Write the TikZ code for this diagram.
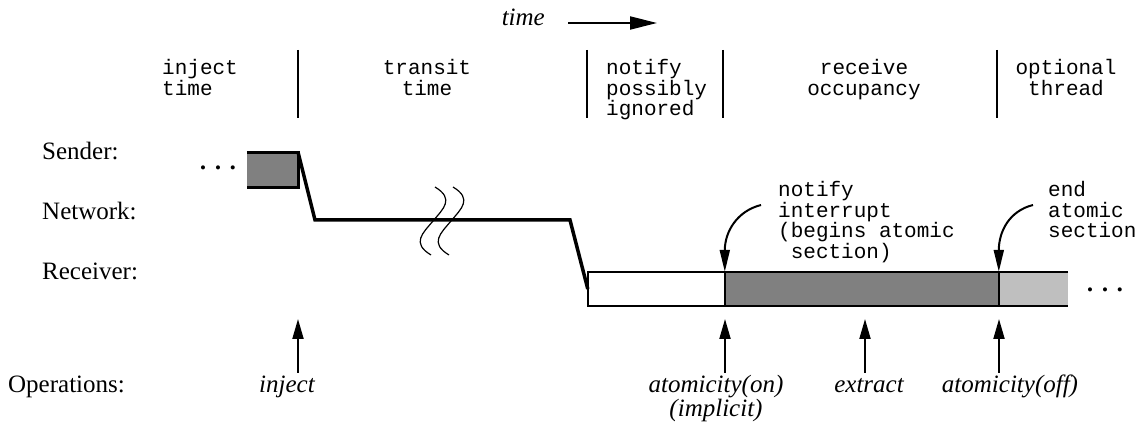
\documentclass[tikz,border=0pt]{standalone}
\usepackage{fontspec}
\setmainfont{Liberation Serif}
\setmonofont{Liberation Mono}
\usetikzlibrary{arrows.meta}
\tikzset{
    rowlbl/.style = {anchor=base west, inner sep=0pt, font=\fontsize{25}{25}\selectfont},
    oplbl/.style = {anchor=base, inner sep=0pt, align=center, font=\itshape\fontsize{25}{24}\selectfont},
    colhdr/.style = {inner sep=0pt, font=\ttfamily\fontsize{21}{20.5}\selectfont},
    note/.style = {anchor=base west, inner sep=0pt, align=left, font=\ttfamily\fontsize{21}{20.5}\selectfont},
    dotsn/.style = {inner sep=0pt, font=\fontsize{17}{17}\selectfont},
    sendbox/.style = {rectangle, inner sep=0pt, minimum width=51pt, minimum height=34pt, fill=gray},
    seg/.style = {rectangle, inner sep=0pt, minimum height=34pt},
    boxline/.style = {line width=3pt, line join=miter},
    barline/.style = {line width=2.5pt},
    sepline/.style = {line width=2pt},
    sig/.style = {line width=3.5pt, line join=miter},
    brk/.style = {line width=1.2pt},
    divline/.style = {line width=2pt},
    uparr/.style = {-{Triangle[length=20pt,width=11pt]}, line width=2pt},
    curvarr/.style = {-{Triangle[length=22pt,width=10pt]}, line width=2pt},
    timearr/.style = {-{Triangle[length=27pt,width=13pt]}, line width=2pt}
}
\newcommand{\Dots}{\textbullet\hspace{9pt}\textbullet\hspace{9pt}\textbullet}

\begin{document}
\begin{tikzpicture}[x=1pt,y=-1pt]
\useasboundingbox (0,0) rectangle (1141,427);
% time direction
\node[oplbl, anchor=base east] at (545,26) (tlbl) {time};
\coordinate (ta) at (568,23);
\coordinate (tb) at (657,23);
\draw[timearr] (ta) -- (tb);
% column headers (base = last line)
\foreach \x in {298,587,723,997} \draw[divline] (\x,50) -- (\x,118);
\node[colhdr, anchor=base west, align=left] at (162,95.5) (hinj) {inject\\time};
\node[colhdr, anchor=base, align=center] at (427,95.5) (htrn) {transit\\time};
\node[colhdr, anchor=base west, align=left] at (606,116) (hntf) {notify\\possibly\\ignored};
\node[colhdr, anchor=base, align=center] at (864,95.5) (hocc) {receive\\occupancy};
\node[colhdr, anchor=base, align=center] at (1066,95.5) (hopt) {optional\\thread};
% rows
\node[rowlbl] at (42,160) (snd) {Sender:};
\node[rowlbl] at (42,220) (net) {Network:};
\node[rowlbl] at (42,280) (rcv) {Receiver:};
\node[rowlbl] at (8,393) (ops) {Operations:};
% sender
\node[sendbox] at (272.5,170) (sbox) {};
\draw[boxline] (sbox.north west) -- (sbox.north east) -- (sbox.south east) -- (sbox.south west);
\node[dotsn] at (218,170) (sdots) {\Dots};
% receiver
\node[seg, fill=white, minimum width=137pt] at (656.5,289) (wait) {};
\node[seg, fill=gray, minimum width=274pt] at (862,289) (occ) {};
\node[seg, fill=black!25, minimum width=69pt] at (1033.5,289) (opt) {};
\draw[barline] (opt.north east) -- (wait.north west) -- (wait.south west) -- (opt.south east);
\draw[sepline] (occ.north west) -- (occ.south west);
\draw[sepline] (opt.north west) -- (opt.south west);
\node[dotsn] at (1105,292) (rdots) {\Dots};
% network
\coordinate (n1) at (315,220);
\coordinate (n2) at (570,220);
\draw[sig] (sbox.north east) -- (n1) -- (n2) -- (wait.west);
\foreach \dx in {0,18} \draw[brk] ({435+\dx},187) .. controls +(20,12) and +(10,-12) .. ({433+\dx},221) .. controls +(-10,12) and +(-20,-12) .. ({431+\dx},255);
% notes
\node[note] at (778,258.5) (nint) {notify\\interrupt\\(begins atomic\\\ section)};
\node[note] at (1048,238) (nend) {end\\atomic\\section};
\coordinate (c1) at (761,205);
\coordinate (c2) at (1033,205);
\draw[curvarr] (c1) .. controls +(-24,6) and +(0,-40) .. (occ.north west);
\draw[curvarr] (c2) .. controls +(-24,6) and +(0,-40) .. (opt.north west);
% operations
\node[oplbl] at (287,393) (oinj) {inject};
\node[oplbl] at (716,417) (oaon) {atomicity(on)\\(implicit)};
\node[oplbl] at (869,393) (oext) {extract};
\node[oplbl] at (1010,393) (oaoff) {atomicity(off)};
\coordinate (u1) at (298,373); \coordinate (v1) at (298,319);
\coordinate (u2) at (725,373); \coordinate (v2) at (725,319);
\coordinate (u3) at (865,373); \coordinate (v3) at (865,319);
\coordinate (u4) at (999,373); \coordinate (v4) at (999,319);
\draw[uparr] (u1) -- (v1);
\draw[uparr] (u2) -- (v2);
\draw[uparr] (u3) -- (v3);
\draw[uparr] (u4) -- (v4);
\end{tikzpicture}
\end{document}
